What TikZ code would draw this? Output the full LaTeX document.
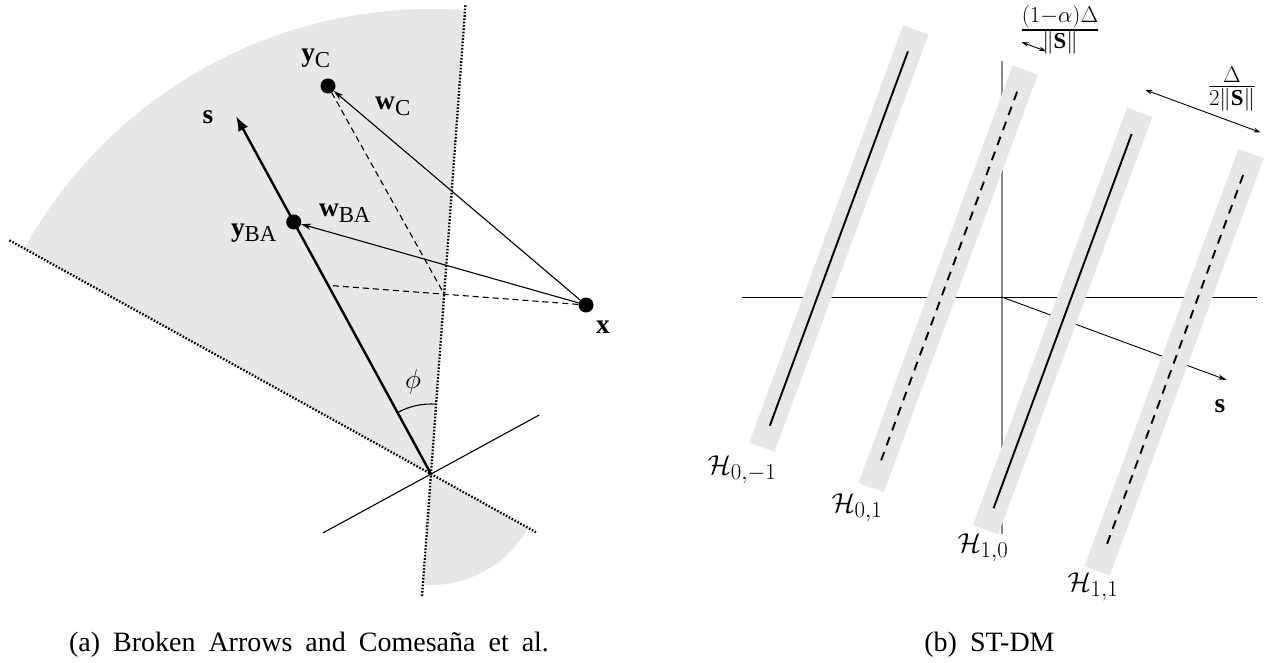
\documentclass[tikz,border=0pt]{standalone}
\usepackage{amsmath}
\usepackage{fontspec}
\setmainfont{Liberation Serif}
\usetikzlibrary{arrows.meta,calc}
\definecolor{sector}{HTML}{E6E7E9}
\definecolor{axisgray}{HTML}{8A8A8A}
\begin{document}
\begin{tikzpicture}[x=1pt,y=-1pt,
  lab/.style={font=\fontsize{24.88}{30}\selectfont, inner sep=0pt, scale=1.1, transform shape},
  captext/.style={font=\fontsize{28}{32}\selectfont, inner sep=0pt},
  dotline/.style={line width=2.3pt, dash pattern=on 1.6pt off 1.7pt},
  ptdot/.style={circle, fill=black, inner sep=0pt, minimum size=15pt},
  warrow/.style={line width=1.1pt, -{Stealth[length=10pt,width=6pt]}},
  dashln/.style={line width=1.1pt, dash pattern=on 6pt off 4pt},
  hsolid/.style={line width=1.9pt},
  hdash/.style={line width=1.9pt, dash pattern=on 9pt off 7pt},
  band/.style={fill=sector},
  dimarrow/.style={line width=0.9pt, {Stealth[length=7pt,width=4.5pt]}-{Stealth[length=7pt,width=4.5pt]}}
]
\useasboundingbox (0,0) rectangle (1264,662);

% ---------------- left panel ----------------
\coordinate (O) at (431,474);
\fill[sector] (O) -- ++(-85.8:465) arc[start angle=-85.8, end angle=-151, radius=465] -- cycle;
\fill[sector] (O) -- ++(94.2:111) arc[start angle=94.2, end angle=29, radius=111] -- cycle;

\coordinate (Dtop) at ($(O)+(-85.8:470)$);
\coordinate (Dbot) at ($(O)+(94.2:124)$);
\coordinate (Eleft) at ($(O)+(-151:482)$);
\coordinate (Eright) at ($(O)+(29:120)$);
\draw[dotline] (Dtop) -- (Dbot);
\draw[dotline] (Eleft) -- (Eright);

\coordinate (Pa) at ($(O)+(151.4:123)$);
\coordinate (Pb) at ($(O)+(-28.6:123)$);
\draw[line width=1.1pt] (Pa) -- (Pb);

\coordinate (sTip) at (236,116);
\coordinate (P1) at ($(O)!0.527!(sTip)$);
\node[ptdot] (X) at (586,305) {};
\node[ptdot] (yC) at (328,86) {};
\coordinate (Q) at (intersection of P1--X and O--Dtop);

\draw[dashln] (X) -- (P1);
\draw[dashln] (yC) -- (Q);

\draw[line width=2.4pt, -{Latex[length=15pt,width=11pt]}] (O) -- (sTip);
\node[ptdot] (yBA) at ($(O)!0.704!(sTip)$) {};

\draw[warrow] (X) -- (yBA);
\draw[warrow] (X) -- (yC);

\draw[line width=1.1pt] (O) ++(-118.6:70) arc[start angle=-118.6, end angle=-85.8, radius=70];

\node[lab] (ls) at (208,117) {$\mathbf{s}$};
\node[lab] (lyC) at (316,58) {$\mathbf{y}_{\text{C}}$};
\node[lab] (lwC) at (393,106) {$\mathbf{w}_{\text{C}}$};
\node[lab] (lwBA) at (345,213) {$\mathbf{w}_{\text{BA}}$};
\node[lab] (lyBA) at (254,233) {$\mathbf{y}_{\text{BA}}$};
\node[lab] (lx) at (603,327) {$\mathbf{x}$};
\node[lab] (lphi) at (413,382) {$\phi$};

% ---------------- right panel ----------------
\coordinate (R) at (1001.7,297);
\draw[line width=1.6pt, axisgray] (1001.7,61) -- (1001.7,534);
\draw[line width=0.9pt] (742,297) -- (1257,297);
\coordinate (sR) at ($(R)+(20.25:240)$);
\draw[line width=0.9pt, -{Stealth[length=9pt,width=5pt]}] (R) -- (sR);

\begin{scope}[shift={(1001.7,297)}, rotate=-20.25]
  \foreach \c/\nm in {-173/a, -56.6/b, 65.5/c, 184.3/d}{
    \fill[band] (\c-13.5,-221) -- (\c+13.5,-221) -- (\c+13.5,224) -- (\c-13.5,224) -- cycle;
    \coordinate (\nm top) at (\c,-198);
    \coordinate (\nm bot) at (\c,201);
  }
  \coordinate (m1) at (-69.6,-246);
  \coordinate (m2) at (-43.6,-246);
  \coordinate (n1) at (63,-244);
  \coordinate (n2) at (186,-244);
\end{scope}
\draw[hsolid] (atop) -- (abot);
\draw[hdash] (btop) -- (bbot);
\draw[hsolid] (ctop) -- (cbot);
\draw[hdash] (dtop) -- (dbot);

\draw[dimarrow] (m1) -- (m2);
\draw[dimarrow] (n1) -- (n2);

\node[lab] (f1) at (1060,30) {$\frac{(1-\alpha)\Delta}{\|\mathbf{S}\|}$};
\node[lab] (f2) at (1232,89) {$\frac{\Delta}{2\|\mathbf{S}\|}$};

\node[lab] (lsR) at (1220,406) {$\mathbf{s}$};
\node[lab] (H1) at (742,470) {$\mathcal{H}_{0,-1}$};
\node[lab] (H2) at (857,508) {$\mathcal{H}_{0,1}$};
\node[lab] (H3) at (983,548) {$\mathcal{H}_{1,0}$};
\node[lab] (H4) at (1093,587) {$\mathcal{H}_{1,1}$};

% captions
\node[captext] (capa) at (309,645) {\spaceskip=13pt (a) Broken Arrows and Comesaña et al.};
\node[captext] (capb) at (989.5,645) {\spaceskip=13pt (b) ST-DM};
\end{tikzpicture}
\end{document}
